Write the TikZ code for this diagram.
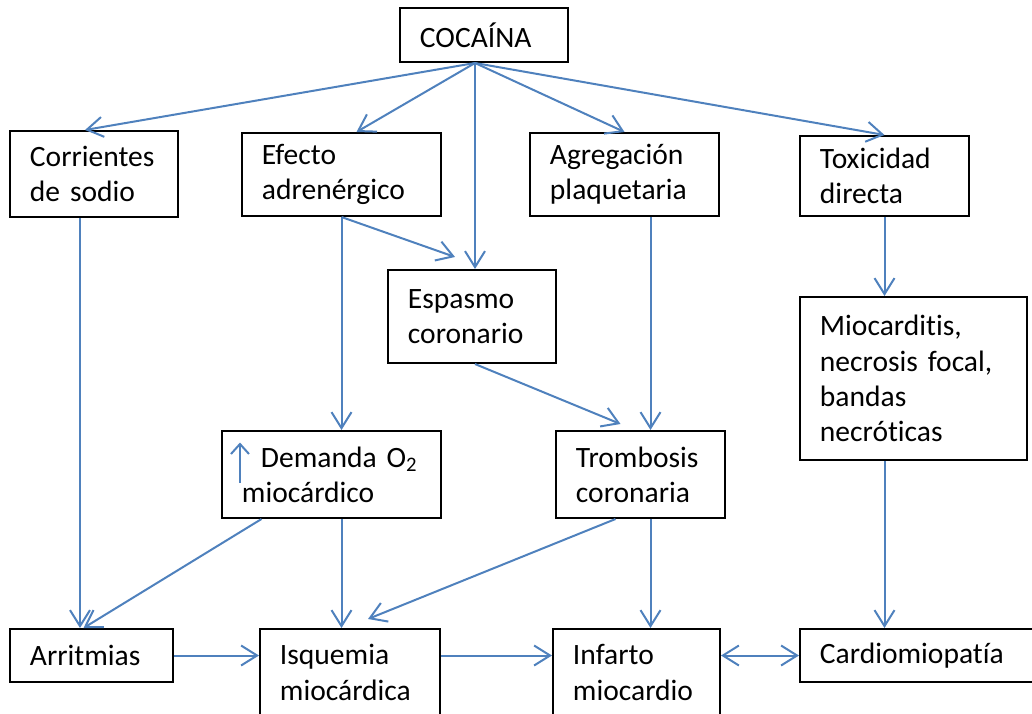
\documentclass[tikz,border=0pt]{standalone}
\usepackage{fontspec}
\setmainfont{Carlito}[Ligatures = NoCommon]
\usepackage{tikz}
\usetikzlibrary{arrows.meta}
\usetikzlibrary{positioning}
\definecolor{arrowblue}{HTML}{4F81BD}
\newcommand{\boxfont}{\fontsize{21}{25}\selectfont\spaceskip 0.16em\relax}

\begin{document}
\begin{tikzpicture}[x = 0.025cm, y = -0.025cm,
		font = \boxfont,
		>={Straight Barb[length = 0.4cm, width = 0.5cm]},
		box/.style = {draw, line width = 0.05cm, inner xsep = 0.5cm, inner ysep = 0pt, align = left},
		arr/.style = {->, arrowblue, line width = 0.05cm}]
			%\draw[help lines] (0,0) grid (1032,713);
			\clip (0, 0) rectangle (1032, 713);
			\node[box, text width = 3.2cm, minimum height = 1.35cm] (coca) at (484, 35) {COCAÍNA};
			
			\node[box, text width = 3.2cm, minimum height = 2.15cm] (sodio) at (94, 174) {Corrientes\\de sodio};
			\node[box, text width = 3.975cm, minimum height = 2.075cm] (adren) at (341.5, 174.5) {Efecto\\adrenérgico};
			\node[box, text width = 3.725cm, minimum height = 2.075cm] (plaq) at (624.5, 174.5) {Agregación\\plaquetaria};
			\node[box, text width = 3.225cm, minimum height = 2cm] (toxic) at (884.5, 176) {Toxicidad\\directa};
			
			\node[box, text width = 3.2cm, minimum height = 2.325cm] (espasmo) at (472, 316.5) {Espasmo\\coronario};
			\node[box, text width = 4.675cm, minimum height = 4.075cm] (mioc) at (913.5, 378.5) {Miocarditis,\\necrosis focal,\\bandas\\necróticas};
			
			\node[box, text width = 4.475cm, minimum height = 2.175cm] (demanda) at (331.5, 474.5) {\hspace*{0.475cm}Demanda O\textsubscript{2}\\miocárdico};
			\node[box, text width = 3.225cm, minimum height = 2.175cm] (tromb) at (640.5, 474.5) {Trombosis\\coronaria};
			
			\node[box, text width = 3.075cm, minimum height = 1.325cm] (arrit) at (91.5, 655.5) {Arritmias};
			\node[box, text width = 3.5cm, minimum height = 2.175cm] (isq) at (350, 672.5) {Isquemia\\miocárdica};
			\node[box, text width = 3.175cm, minimum height = 2.175cm] (infarto) at (636.5, 672.5) {Infarto\\miocardio};
			\node[box, text width = 5cm, minimum height = 1.325cm] (cardio) at (920, 655.5) {Cardiomiopatía};
			
			% cocaina
			\coordinate (cocaout) at ([xshift = -0.225cm]coca.south);
			\draw[arr] (cocaout) -- ([xshift = -0.225cm]sodio.north);
			\draw[arr] (cocaout) -- ([xshift = 0.375cm]adren.north);
			\draw[arr] (cocaout) -- (cocaout |- espasmo.north);
			\draw[arr] (cocaout) -- (plaq.north);
			\draw[arr] (cocaout) -- (toxic.north);
			
			\draw[arr] ([xshift = -0.35cm]sodio.south) -- ([xshift = -0.35cm]sodio.south |- arrit.north);
			\draw[arr] (adren.south) -- (adren.south |- demanda.north);
			\draw[arr] (adren.south) -- ([xshift = -0.425cm, yshift = 0.3cm]espasmo.north);
			\draw[arr] ([xshift = 0.65cm]plaq.south) -- ([xshift = 0.65cm]plaq.south |- tromb.north);
			\draw[arr] ([xshift = 0.075cm]espasmo.south) -- ([xshift = -0.5cm, yshift = 0.15cm]tromb.north);
			\draw[arr] (toxic.south) -- (toxic.south |- mioc.north);
			\draw[arr] (toxic.south |- mioc.south) -- (toxic.south |- cardio.north);
			
			% demanda O2
			\draw[arr, >={Straight Barb[length = 0.25cm, width = 0.45cm]}] ([xshift = 0.475cm, yshift = -0.2cm]demanda.west) -- ([xshift = 0.475cm, yshift = 0.8cm]demanda.west);
			\draw[arr] ([xshift = -1.75cm]demanda.south) -- ([xshift = -0.2cm]arrit.north);
			\draw[arr] (adren.south |- demanda.south) -- (adren.south |- isq.north);
			\draw[arr] ([xshift = -0.625cm]tromb.south) -- ([xshift = 0.45cm, yshift = 0.225cm]isq.north);
			\draw[arr] ([xshift = 0.65cm]plaq.south |- tromb.south) -- ([xshift = 0.65cm]plaq.south |- infarto.north);
			
			\draw[arr] (arrit.east) -- (arrit.east -| isq.west);
			\draw[arr] (arrit.east -| isq.east) -- (arrit.east -| infarto.west);
			\draw[arr, <->] (arrit.east -| infarto.east) -- (cardio.west);
		\end{tikzpicture}
\end{document}
